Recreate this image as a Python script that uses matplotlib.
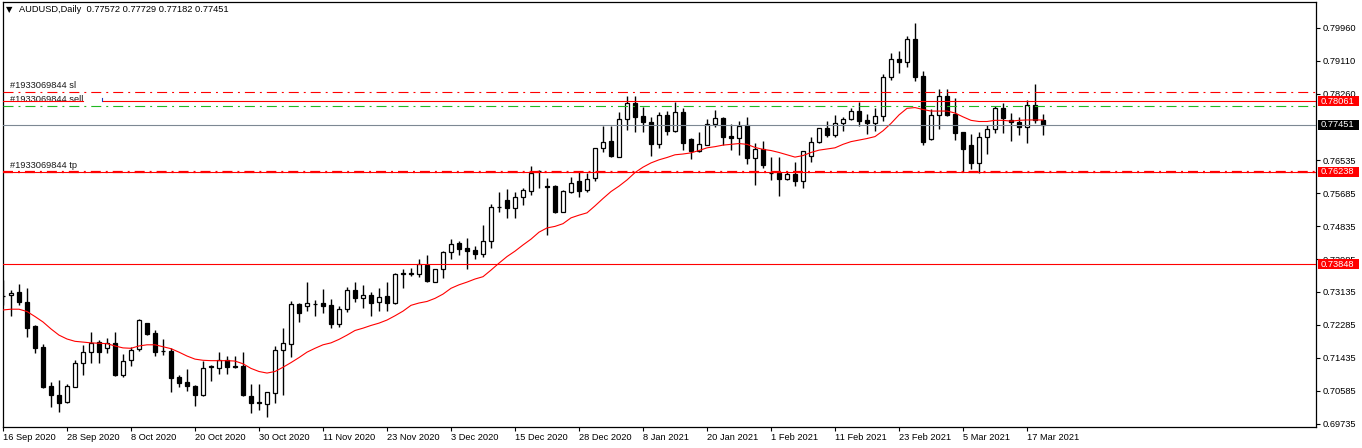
import matplotlib
matplotlib.use("Agg")
import matplotlib.pyplot as plt
import numpy as np
from matplotlib.patches import Rectangle

plt.rcParams['font.family'] = ['Liberation Sans', 'DejaVu Sans']
plt.rcParams['lines.scale_dashes'] = False

# ---------------- data (AUDUSD daily) ----------------
open_ = [0.7303, 0.7305, 0.7313, 0.7288, 0.7226, 0.7172, 0.7071, 0.7047, 0.7030, 0.7069,
         0.7129, 0.7159, 0.7184, 0.7168, 0.7181, 0.7099, 0.7138, 0.7165, 0.7233, 0.7207,
         0.7161, 0.7161, 0.7095, 0.7080, 0.7071, 0.7046, 0.7120, 0.7116, 0.7138, 0.7122,
         0.7123, 0.7045, 0.7028, 0.7023, 0.7053, 0.7164, 0.7178, 0.7282, 0.7278, 0.7282,
         0.7284, 0.7280, 0.7230, 0.7269, 0.7319, 0.7297, 0.7306, 0.7287, 0.7303, 0.7284,
         0.7362, 0.7361, 0.7359, 0.7383, 0.7340, 0.7372, 0.7417, 0.7440, 0.7426, 0.7422,
         0.7411, 0.7445, 0.7532, 0.7551, 0.7531, 0.7558, 0.7575, 0.7626, 0.7587, 0.7587,
         0.7521, 0.7573, 0.7600, 0.7577, 0.7607, 0.7685, 0.7704, 0.7663, 0.7761, 0.7801,
         0.7768, 0.7753, 0.7695, 0.7771, 0.7730, 0.7778, 0.7708, 0.7679, 0.7693, 0.7747,
         0.7762, 0.7717, 0.7711, 0.7745, 0.7660, 0.7683, 0.7620, 0.7620, 0.7605, 0.7618,
         0.7599, 0.7666, 0.7700, 0.7738, 0.7720, 0.7751, 0.7761, 0.7780, 0.7757, 0.7749,
         0.7768, 0.7870, 0.7916, 0.7909, 0.7967, 0.7872, 0.7710, 0.7770, 0.7820, 0.7773,
         0.7727, 0.7693, 0.7648, 0.7713, 0.7734, 0.7788, 0.7758, 0.7753, 0.7741, 0.7797,
         0.77572]
high = [0.7345, 0.7319, 0.7334, 0.7323, 0.7228, 0.7179, 0.7080, 0.7086, 0.7075, 0.7138,
        0.7177, 0.7209, 0.7189, 0.7195, 0.7209, 0.7153, 0.7172, 0.7243, 0.7234, 0.7215,
        0.7192, 0.7168, 0.7099, 0.7114, 0.7073, 0.7136, 0.7125, 0.7158, 0.7148, 0.7148,
        0.7158, 0.7075, 0.7075, 0.7056, 0.7174, 0.7220, 0.7290, 0.7284, 0.7340, 0.7293,
        0.7321, 0.7295, 0.7276, 0.7327, 0.7339, 0.7332, 0.7314, 0.7325, 0.7339, 0.7362,
        0.7372, 0.7375, 0.7400, 0.7409, 0.7374, 0.7419, 0.7450, 0.7446, 0.7452, 0.7432,
        0.7487, 0.7541, 0.7573, 0.7580, 0.7571, 0.7581, 0.7639, 0.7629, 0.7608, 0.7590,
        0.7577, 0.7610, 0.7624, 0.7620, 0.7686, 0.7743, 0.7743, 0.7779, 0.7821, 0.7820,
        0.7792, 0.7765, 0.7778, 0.7781, 0.7805, 0.7788, 0.7712, 0.7726, 0.7761, 0.7784,
        0.7765, 0.7748, 0.7756, 0.7765, 0.7698, 0.7704, 0.7662, 0.7662, 0.7626, 0.7649,
        0.7678, 0.7715, 0.7738, 0.7755, 0.7771, 0.7766, 0.7789, 0.7804, 0.7773, 0.7789,
        0.7877, 0.7932, 0.7936, 0.7976, 0.8009, 0.7885, 0.7786, 0.7838, 0.7838, 0.7815,
        0.7728, 0.7721, 0.7727, 0.7745, 0.7793, 0.7801, 0.7775, 0.7765, 0.7810, 0.7851,
        0.77729]
low = [0.7280, 0.7252, 0.7280, 0.7198, 0.7155, 0.7066, 0.7015, 0.7004, 0.7027, 0.7069,
       0.7099, 0.7131, 0.7131, 0.7157, 0.7097, 0.7095, 0.7123, 0.7162, 0.7202, 0.7148,
       0.7151, 0.7056, 0.7069, 0.7058, 0.7020, 0.7045, 0.7084, 0.7101, 0.7102, 0.7116,
       0.7045, 0.7002, 0.7009, 0.6990, 0.7027, 0.7046, 0.7145, 0.7237, 0.7265, 0.7251,
       0.7260, 0.7221, 0.7223, 0.7263, 0.7288, 0.7271, 0.7252, 0.7265, 0.7265, 0.7282,
       0.7325, 0.7355, 0.7351, 0.7338, 0.7339, 0.7350, 0.7399, 0.7409, 0.7372, 0.7399,
       0.7403, 0.7426, 0.7519, 0.7505, 0.7505, 0.7538, 0.7564, 0.7581, 0.7461, 0.7517,
       0.7520, 0.7568, 0.7558, 0.7573, 0.7601, 0.7676, 0.7662, 0.7662, 0.7732, 0.7726,
       0.7728, 0.7666, 0.7686, 0.7719, 0.7726, 0.7680, 0.7657, 0.7676, 0.7692, 0.7741,
       0.7692, 0.7680, 0.7667, 0.7643, 0.7590, 0.7633, 0.7603, 0.7562, 0.7603, 0.7588,
       0.7581, 0.7650, 0.7698, 0.7715, 0.7714, 0.7730, 0.7759, 0.7743, 0.7723, 0.7730,
       0.7756, 0.7861, 0.7880, 0.7894, 0.7858, 0.7692, 0.7706, 0.7735, 0.7769, 0.7707,
       0.7624, 0.7632, 0.7620, 0.7669, 0.7724, 0.7724, 0.7704, 0.7719, 0.7699, 0.7749,
       0.77182]
close = [0.7302, 0.7312, 0.7288, 0.7221, 0.7170, 0.7069, 0.7046, 0.7027, 0.7071, 0.7129,
         0.7159, 0.7182, 0.7159, 0.7181, 0.7099, 0.7136, 0.7164, 0.7241, 0.7205, 0.7159,
         0.7160, 0.7092, 0.7079, 0.7071, 0.7046, 0.7116, 0.7122, 0.7138, 0.7119, 0.7119,
         0.7046, 0.7027, 0.7027, 0.7054, 0.7164, 0.7181, 0.7282, 0.7258, 0.7284, 0.7283,
         0.7278, 0.7230, 0.7269, 0.7319, 0.7299, 0.7306, 0.7286, 0.7300, 0.7284, 0.7359,
         0.7360, 0.7362, 0.7385, 0.7343, 0.7373, 0.7417, 0.7437, 0.7424, 0.7420, 0.7411,
         0.7446, 0.7532, 0.7534, 0.7531, 0.7558, 0.7577, 0.7622, 0.7625, 0.7586, 0.7519,
         0.7574, 0.7594, 0.7575, 0.7605, 0.7685, 0.7700, 0.7665, 0.7761, 0.7801, 0.7766,
         0.7753, 0.7695, 0.7771, 0.7730, 0.7778, 0.7699, 0.7679, 0.7695, 0.7747, 0.7762,
         0.7715, 0.7711, 0.7743, 0.7660, 0.7682, 0.7642, 0.7621, 0.7605, 0.7618, 0.7599,
         0.7677, 0.7700, 0.7736, 0.7719, 0.7749, 0.7760, 0.7780, 0.7756, 0.7749, 0.7768,
         0.7868, 0.7915, 0.7909, 0.7966, 0.7870, 0.7702, 0.7771, 0.7820, 0.7771, 0.7725,
         0.7684, 0.7648, 0.7713, 0.7734, 0.7788, 0.7762, 0.7752, 0.7741, 0.7797, 0.7758,
         0.77451]
ma_line = [0.7267, 0.7269, 0.7269, 0.7263, 0.7250, 0.7236, 0.7218, 0.7202, 0.7192, 0.7186,
           0.7184, 0.7182, 0.7181, 0.7180, 0.7174, 0.7169, 0.7168, 0.7174, 0.7177, 0.7177,
           0.7172, 0.7167, 0.7158, 0.7148, 0.7140, 0.7137, 0.7136, 0.7136, 0.7136, 0.7135,
           0.7128, 0.7116, 0.7108, 0.7104, 0.7108, 0.7119, 0.7131, 0.7144, 0.7158, 0.7168,
           0.7177, 0.7182, 0.7191, 0.7202, 0.7214, 0.7220, 0.7227, 0.7233, 0.7241, 0.7252,
           0.7264, 0.7279, 0.7285, 0.7289, 0.7297, 0.7308, 0.7323, 0.7332, 0.7339, 0.7347,
           0.7353, 0.7370, 0.7388, 0.7405, 0.7419, 0.7435, 0.7450, 0.7468, 0.7479, 0.7483,
           0.7490, 0.7505, 0.7512, 0.7518, 0.7536, 0.7555, 0.7573, 0.7587, 0.7603, 0.7622,
           0.7636, 0.7647, 0.7655, 0.7661, 0.7668, 0.7670, 0.7673, 0.7679, 0.7686, 0.7689,
           0.7693, 0.7695, 0.7697, 0.7695, 0.7687, 0.7682, 0.7679, 0.7674, 0.7668, 0.7662,
           0.7666, 0.7674, 0.7680, 0.7683, 0.7686, 0.7695, 0.7702, 0.7706, 0.7710, 0.7715,
           0.7730, 0.7749, 0.7771, 0.7788, 0.7790, 0.7785, 0.7781, 0.7781, 0.7781, 0.7776,
           0.7766, 0.7757, 0.7754, 0.7754, 0.7757, 0.7757, 0.7755, 0.7757, 0.7758, 0.7758,
           0.7758]

date_labels = ['16 Sep 2020', '28 Sep 2020', '8 Oct 2020', '20 Oct 2020', '30 Oct 2020',
               '11 Nov 2020', '23 Nov 2020', '3 Dec 2020', '15 Dec 2020', '28 Dec 2020',
               '8 Jan 2021', '20 Jan 2021', '1 Feb 2021', '11 Feb 2021', '23 Feb 2021',
               '5 Mar 2021', '17 Mar 2021']
label_step = 8
price_ticks = [0.69735, 0.70585, 0.71435, 0.72285, 0.73135, 0.73985, 0.74835,
               0.75685, 0.76535, 0.78260, 0.79110, 0.79960]

sl_level = 0.7830
sell_level = 0.78061
green_level = 0.7794
bid_level = 0.77451
tp_level = 0.76238
line_level = 0.73848
order_id = '#1933069844'
title = 'AUDUSD,Daily  0.77572 0.77729 0.77182 0.77451'

# ---------------- figure ----------------
W, H = 1362, 448
fig = plt.figure(figsize=(W / 100, H / 100), dpi=100)
fig.patch.set_facecolor('white')
ax = fig.add_axes([3 / W, 1 - 427 / H, 1313 / W, 425 / H])
ax.set_facecolor('white')

o = np.array(open_); h = np.array(high); l = np.array(low); c = np.array(close)
idx = np.arange(len(c))
up = c >= o

ax.vlines(idx, l, h, color='black', lw=1.0, zorder=2)
ax.bar(idx, np.abs(c - o), bottom=np.minimum(o, c), width=0.5,
       color=np.where(up, 'white', 'black'), edgecolor='black', lw=0.9, zorder=3)
ax.plot(idx, ma_line, color='#ff0000', lw=0.8, zorder=4)

dashdot = (0, (7.2, 3.6, 1.4, 3.6))
red = '#ff0000'
ax.axhline(sl_level, color=red, lw=0.8, ls=dashdot, zorder=5)
ax.axhline(sell_level, xmin=0, xmax=80 / 1313, color=red, lw=0.8, zorder=5)
ax.axhline(sell_level, xmin=100 / 1313, xmax=1, color=red, lw=0.8, zorder=5)
ax.plot([12.4, 12.4], [sell_level + 0.0001, sell_level + 0.0008], color='#2040c0', lw=0.8, zorder=6)
ax.axhline(green_level, color='#22b822', lw=0.8, ls=dashdot, zorder=5)
ax.axhline(bid_level, color='#7d8893', lw=0.8, zorder=5)
ax.axhline(tp_level, color=red, lw=0.8, zorder=5)
ax.axhline(tp_level, color=red, lw=1.6, ls=dashdot, zorder=5)
ax.axhline(line_level, color=red, lw=0.8, zorder=5)

fs = 6.7
txtc = '#1a1a1a'
ax.text(7 / 1313, 0.78458, order_id + ' sl', transform=ax.get_yaxis_transform(),
        fontsize=fs, color=txtc, va='center', ha='left', zorder=6)
ax.text(7 / 1313, 0.78096, order_id + ' sell', transform=ax.get_yaxis_transform(),
        fontsize=fs, color=txtc, va='center', ha='left', zorder=4.5)
ax.text(7 / 1313, 0.76391, order_id + ' tp', transform=ax.get_yaxis_transform(),
        fontsize=fs, color=txtc, va='center', ha='left', zorder=6)

ax.set_xlim(0, 1313 / 8)
ax.set_ylim(0.69646, 0.80628)

ax.set_xticks(idx[::label_step][:len(date_labels)])
ax.set_xticklabels(date_labels)
for lab in ax.get_xticklabels():
    lab.set_horizontalalignment('left')
ax.tick_params(axis='x', direction='out', length=3, width=0.8, pad=1.0,
               labelsize=fs, colors='black')

ax.yaxis.tick_right()
ax.set_yticks(price_ticks)
ax.set_yticklabels(['%.5f' % v for v in price_ticks])
ax.tick_params(axis='y', direction='out', length=3, width=0.8, pad=2,
               labelsize=fs, colors='black')
for s in ax.spines.values():
    s.set_color('black')
    s.set_linewidth(0.9)


def price_box(level, fc):
    tr = ax.get_yaxis_transform()
    ax.add_patch(Rectangle((1.0015, level - 0.0013), 0.0315, 0.0026, transform=tr,
                           facecolor=fc, edgecolor='none', clip_on=False, zorder=8))
    ax.text(1.0035, level, '%.5f' % level, transform=tr, color='white', fontsize=fs,
            va='center', ha='left', zorder=9, clip_on=False)


price_box(sell_level, red)
price_box(bid_level, 'black')
price_box(tp_level, red)
price_box(line_level, red)

fig.text(6 / W, 1 - 10 / H, '\u25bc', fontsize=6, family='DejaVu Sans',
         va='center', ha='left', color='black')
fig.text(19 / W, 1 - 10 / H, title, fontsize=fs, va='center', ha='left', color='black')

fig.savefig('out.png', dpi=100, facecolor='white')
